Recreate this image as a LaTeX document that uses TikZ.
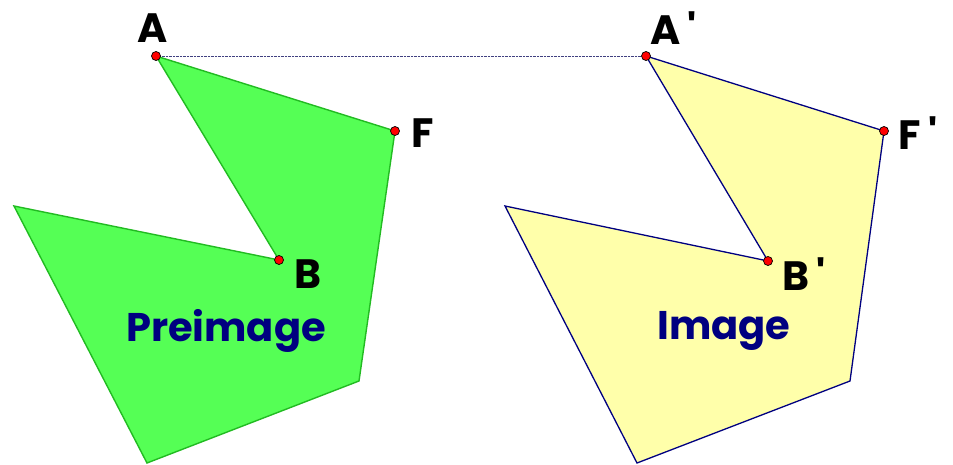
\documentclass[tikz,border=0pt]{standalone}
\usepackage{fontspec}
\setmainfont{Poppins}
\begin{document}
\begin{tikzpicture}[x=1pt,y=-1pt,
  pt/.style={circle,draw=black,fill=red,inner sep=0pt,minimum size=9pt,line width=0.7pt},
  lbl/.style={font=\fontsize{41}{41}\selectfont\bfseries,text=black,inner sep=0pt},
  word/.style={font=\fontsize{40}{40}\selectfont\bfseries,text=blue!50!black,inner sep=0pt}]
\useasboundingbox (0,0) rectangle (953,465);
\definecolor{gfill}{HTML}{55FF55}
\definecolor{gedge}{HTML}{22BB22}
\definecolor{yfill}{HTML}{FFFFAA}
\definecolor{navy}{HTML}{000080}
% left polygon
\coordinate (A) at (156,56);
\coordinate (F) at (395,131);
\coordinate (P3) at (359,381);
\coordinate (P4) at (147,463);
\coordinate (P5) at (14,206);
\coordinate (B) at (279,260);
% right polygon
\coordinate (A2) at (646,56);
\coordinate (F2) at (884,131);
\coordinate (Q3) at (850,381);
\coordinate (Q4) at (637,463);
\coordinate (Q5) at (505,206);
\coordinate (B2) at (768,261);
\draw[line width=0.4pt,navy!50!gray,densely dotted] (A) -- (A2);
\filldraw[fill=gfill,draw=gedge,line width=1.4pt,line join=miter] (A) -- (F) -- (P3) -- (P4) -- (P5) -- (B) -- cycle;
\filldraw[fill=yfill,draw=navy,line width=1.3pt,line join=miter] (A2) -- (F2) -- (Q3) -- (Q4) -- (Q5) -- (B2) -- cycle;
\node[pt] (pA) at (A) {};
\node[pt] (pF) at (F) {};
\node[pt] (pB) at (B) {};
\node[pt] (pA2) at (A2) {};
\node[pt] (pF2) at (F2) {};
\node[pt] (pB2) at (B2) {};
\node[lbl] (lA) at (153,28) {A};
\node[lbl] (lA2) at (674,28) {A\,\textquotesingle};
\node[lbl] (lF) at (423,133) {F};
\node[lbl] (lF2) at (918,133) {F\,\textquotesingle};
\node[lbl] (lB) at (308,274) {B};
\node[lbl] (lB2) at (804,274) {B\,\textquotesingle};
\node[word] (pre) at (226,331) {Preimage};
\node[word] (img) at (724,331) {Image};
\end{tikzpicture}
\end{document}
